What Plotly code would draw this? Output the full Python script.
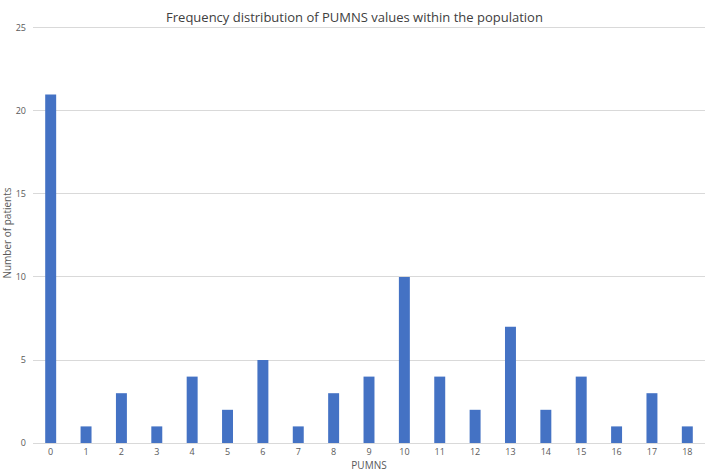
import plotly.graph_objects as go

categories = [str(i) for i in range(19)]
counts = [21, 1, 3, 1, 4, 2, 5, 1, 3, 4, 10, 4, 2, 7, 2, 4, 1, 3, 1]
y_ticks = [0, 5, 10, 15, 20, 25]

fig = go.Figure(go.Bar(x=categories, y=counts, marker_color="#4472C4", marker_line_width=0))

fig.update_layout(
    width=709, height=476,
    margin=dict(l=33, r=4, t=23, b=33),
    paper_bgcolor="white", plot_bgcolor="white",
    bargap=0.69,
    showlegend=False,
    title=dict(text="Frequency distribution of PUMNS values within the population",
               x=0.5, xanchor="center", y=0.963, yanchor="middle",
               font=dict(family="Open Sans, sans-serif", size=13, color="#404040")),
    font=dict(family="Open Sans, sans-serif", color="#595959"),
)
fig.update_xaxes(type="category", showgrid=False, showline=True, linecolor="#d9d9d9", linewidth=1,
                 ticks="", tickfont=dict(size=9, color="#595959"),
                 title=dict(text="PUMNS", font=dict(size=10, color="#595959"), standoff=4))
fig.update_yaxes(range=[0, 25.3], tickvals=y_ticks, showgrid=True, gridcolor="#d9d9d9", gridwidth=1,
                 zeroline=False, ticks="", ticklabelstandoff=6, tickfont=dict(size=9, color="#595959"),
                 title=dict(text="Number of patients", font=dict(size=10, color="#595959"), standoff=4))

fig.write_html("out.html")
